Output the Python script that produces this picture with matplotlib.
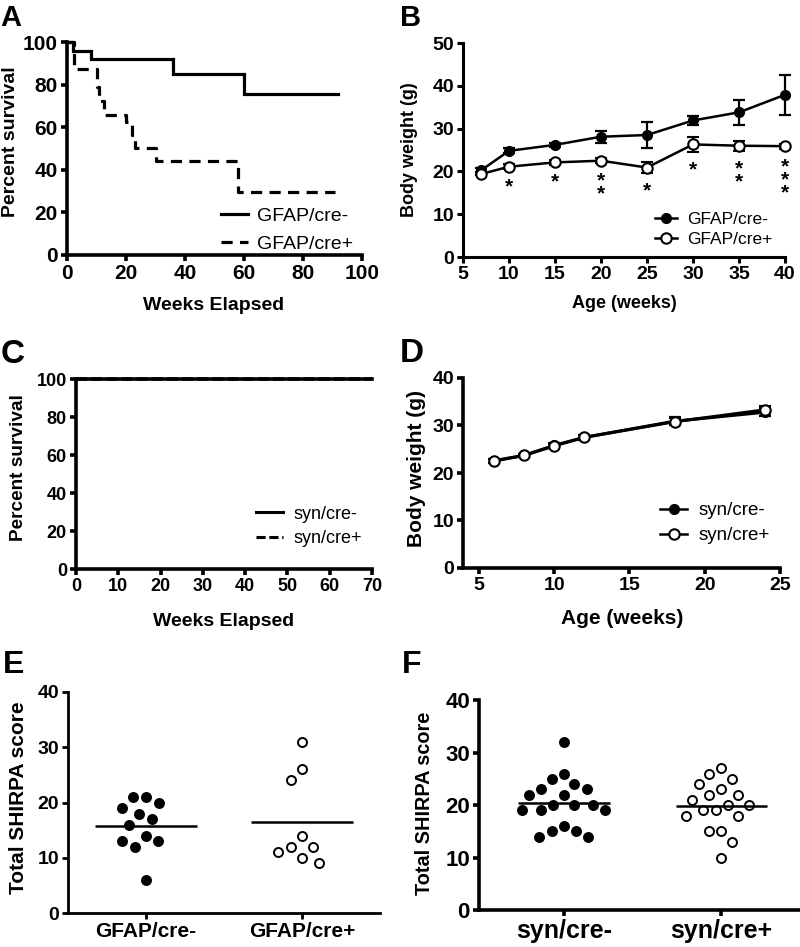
import numpy as np
import matplotlib
matplotlib.use('Agg')
import matplotlib.pyplot as plt
from matplotlib.lines import Line2D

plt.rcParams['font.family'] = ['Liberation Sans', 'DejaVu Sans']

# ---------------- data ----------------
# A: Kaplan-Meier survival, GFAP
a_neg_weeks = [0, 2, 8, 36, 60, 92]
a_neg_surv = [100, 96, 92, 85, 75.5, 75.5]
a_pos_weeks = [0, 2.5, 10, 11, 12.5, 20, 22, 23, 30, 58, 91]
a_pos_surv = [100, 87.5, 79, 72.5, 65.6, 62.5, 56.2, 50, 44, 29.4, 29.4]

# B: body weight, GFAP
b_age = [7, 10, 15, 20, 25, 30, 35, 40]
b_neg_mean = [20.3, 24.8, 26.2, 28.1, 28.5, 31.9, 33.8, 37.9]
b_neg_sem = [0.5, 0.6, 0.5, 1.4, 3.1, 1.0, 2.9, 4.7]
b_pos_mean = [19.4, 21.1, 22.1, 22.5, 20.9, 26.3, 26.0, 25.9]
b_pos_sem = [0.3, 0.6, 0.5, 0.6, 1.3, 1.7, 1.2, 0.6]
b_stars = [0, 1, 1, 2, 1, 1, 2, 3]

# C: survival, syn
c_neg_weeks = [0, 70]
c_neg_surv = [100, 100]
c_pos_weeks = [0, 70]
c_pos_surv = [100, 100]

# D: body weight, syn
d_age = [6, 8, 10, 12, 18, 24]
d_neg_mean = [22.5, 23.7, 25.8, 27.5, 30.9, 32.8]
d_neg_sem = [0.4, 0.4, 0.5, 0.5, 0.8, 0.9]
d_pos_mean = [22.6, 23.7, 25.7, 27.5, 30.8, 33.3]
d_pos_sem = [0.4, 0.4, 0.5, 0.5, 0.8, 0.7]

# E: SHIRPA, GFAP
e_groups = ['GFAP/cre-', 'GFAP/cre+']
e_neg = [21, 21, 20, 19, 18, 17, 16, 14, 13, 13, 12, 6]
e_pos = [31, 26, 24, 14, 12, 12, 11, 10, 9]

# F: SHIRPA, syn
f_groups = ['syn/cre-', 'syn/cre+']
f_neg = [32, 26, 25, 24, 23, 23, 22, 22, 20, 20, 20, 19, 19, 19, 16, 15, 15, 14, 14]
f_pos = [27, 26, 25, 24, 23, 22, 22, 21, 20, 20, 19, 19, 18, 18, 15, 15, 13, 10]

# ---------------- figure ----------------
W, H = 800, 947
fig = plt.figure(figsize=(W / 100, H / 100), dpi=100)


def add_ax(l, r, t, b):
    return fig.add_axes([l / W, 1 - b / H, (r - l) / W, (b - t) / H])


def style(ax, lw, fs):
    for s in ('top', 'right'):
        ax.spines[s].set_visible(False)
    for s in ('left', 'bottom'):
        ax.spines[s].set_linewidth(lw)
        ax.spines[s].set_capstyle('projecting')
    ax.tick_params(direction='out', length=4.5, width=lw, labelsize=fs, pad=2)
    for lab in ax.get_xticklabels() + ax.get_yticklabels():
        lab.set_fontweight('bold')


def px_text(x, y, s, **kw):
    fig.text(x / W, 1 - y / H, s, **kw)


# ---- A ----
axA = add_ax(67, 362, 42, 255)
axA.set_xlim(0, 100)
axA.set_ylim(0, 100)
axA.set_xticks(range(0, 101, 20))
axA.set_yticks(range(0, 101, 20))
axA.step(a_neg_weeks, a_neg_surv, where='post', color='black', lw=2.3,
         clip_on=False, label='GFAP/cre-', solid_joinstyle='miter')
axA.step(a_pos_weeks, a_pos_surv, where='post', color='black', lw=2.3,
         clip_on=False, dashes=(3.5, 2.3), label='GFAP/cre+')
style(axA, 2.6, 15)
axA.legend(loc='lower right', bbox_to_anchor=(0.97, 0.01), frameon=False,
           fontsize=14, borderpad=0, labelspacing=0.55, handlelength=1.4,
           handletextpad=0.45, borderaxespad=0)

# ---- B ----
axB = add_ax(463, 785, 43, 257)
axB.set_xlim(5, 40)
axB.set_ylim(0, 50)
axB.set_xticks(range(5, 41, 5))
axB.set_yticks(range(0, 51, 10))
axB.errorbar(b_age, b_neg_mean, yerr=b_neg_sem, color='black', lw=1.8,
             capsize=4.3, capthick=1.6, elinewidth=1.6, marker='o', ms=7,
             mfc='black', mec='black', zorder=3, clip_on=False)
axB.errorbar(b_age, b_pos_mean, yerr=b_pos_sem, color='black', lw=1.8,
             capsize=4.3, capthick=1.6, elinewidth=1.6, marker='o', ms=7.5,
             mfc='white', mec='black', mew=1.5, zorder=4, clip_on=False)
for x, m, e, n in zip(b_age, b_pos_mean, b_pos_sem, b_stars):
    if n:
        axB.annotate('\n'.join(['*'] * n), (x, m - e), xytext=(0, -6),
                     textcoords='offset points', ha='center', va='top',
                     ma='center', linespacing=0.6, fontsize=15,
                     fontweight='bold')
style(axB, 2.2, 14)
hB = [Line2D([], [], color='black', lw=1.8, marker='o', ms=7, mfc='black'),
      Line2D([], [], color='black', lw=1.8, marker='o', ms=7.5, mfc='white', mew=1.5)]
axB.legend(hB, ['GFAP/cre-', 'GFAP/cre+'], loc='lower right',
           bbox_to_anchor=(0.96, 0.045), frameon=False, fontsize=12.5,
           borderpad=0, labelspacing=0.28, handlelength=1.3,
           handletextpad=0.55, borderaxespad=0)

# ---- C ----
axC = add_ax(76, 372, 379, 569)
axC.set_xlim(0, 70)
axC.set_ylim(0, 100)
axC.set_xticks(range(0, 71, 10))
axC.set_yticks(range(0, 101, 20))
axC.plot(c_pos_weeks, c_pos_surv, color='black', lw=2.6, dashes=(3, 1.2),
         clip_on=False, label='syn/cre+')
axC.plot(c_neg_weeks, c_neg_surv, color='black', lw=2.6, clip_on=False,
         label='syn/cre-')
style(axC, 2.6, 13)
hC = [Line2D([], [], color='black', lw=2.2),
      Line2D([], [], color='black', lw=2.2, dashes=(3, 1.2))]
axC.legend(hC, ['syn/cre-', 'syn/cre+'], loc='lower right',
           bbox_to_anchor=(0.966, 0.115), frameon=False, fontsize=13,
           borderpad=0, labelspacing=0.42, handlelength=1.45,
           handletextpad=0.6, borderaxespad=0)

# ---- D ----
axD = add_ax(463, 780, 378, 568)
axD.set_xlim(3.95, 25)
axD.set_ylim(0, 40)
axD.set_xticks(range(5, 26, 5))
axD.set_yticks(range(0, 41, 10))
axD.errorbar(d_age, d_neg_mean, yerr=d_neg_sem, color='black', lw=2.2,
             capsize=4, capthick=1.6, elinewidth=1.6, marker='o', ms=7,
             mfc='black', mec='black', zorder=3, clip_on=False)
axD.errorbar(d_age, d_pos_mean, yerr=d_pos_sem, color='black', lw=2.2,
             capsize=4, capthick=1.6, elinewidth=1.6, marker='o', ms=7.5,
             mfc='white', mec='black', mew=1.5, zorder=4, clip_on=False)
style(axD, 2.6, 14)
hD = [Line2D([], [], color='black', lw=1.8, marker='o', ms=7, mfc='black'),
      Line2D([], [], color='black', lw=1.8, marker='o', ms=7.5, mfc='white', mew=1.5)]
axD.legend(hD, ['syn/cre-', 'syn/cre+'], loc='lower right',
           bbox_to_anchor=(0.968, 0.125), frameon=False, fontsize=13.5,
           borderpad=0, labelspacing=0.42, handlelength=1.45,
           handletextpad=0.6, borderaxespad=0)


# ---- swarm helper (anisotropic beeswarm in pixel space) ----
def swarm(ax, xc, vals, dist_px, yscale):
    vals = np.asarray(vals, dtype=float)
    pts = ax.transData.transform(np.column_stack([np.full(len(vals), xc), vals]))
    x0 = pts[0, 0]
    ys = pts[:, 1]
    xs = np.empty(len(vals))
    placed = []
    for i in np.argsort(-vals, kind='stable'):
        y = ys[i]
        ivs = []
        for px, py in placed:
            dy = abs(py - y) * yscale
            if dy < dist_px:
                dx = np.sqrt(dist_px ** 2 - dy ** 2)
                ivs.append((px - dx, px + dx))
        cands = [x0] + [e for iv in ivs for e in iv]
        cands.sort(key=lambda c: (round(abs(c - x0), 6), c))
        chosen = x0
        for c in cands:
            if all(not (lo + 1e-6 < c < hi - 1e-6) for lo, hi in ivs):
                chosen = c
                break
        placed.append((chosen, y))
        xs[i] = chosen
    return ax.transData.inverted().transform(np.column_stack([xs, ys]))[:, 0]


# ---- E ----
axE = add_ax(68, 380, 692, 913)
axE.set_xlim(-0.5, 1.5)
axE.set_ylim(0, 40)
axE.set_yticks(range(0, 41, 10))
axE.set_xticks([0, 1])
axE.set_xticklabels(e_groups)
style(axE, 2.0, 14)
axE.tick_params(axis='x', labelsize=15)
for lab in axE.get_xticklabels():
    lab.set_fontweight('bold')
for i, (vals, filled) in enumerate([(e_neg, True), (e_pos, False)]):
    xs = swarm(axE, i, vals, 13.3, 0.7)
    axE.scatter(xs, vals, s=42, facecolors='black' if filled else 'white',
                edgecolors='black', linewidths=1.4, zorder=3, clip_on=False)
    axE.hlines(np.mean(vals), i - 0.33, i + 0.33, color='black', lw=1.8, zorder=4)

# ---- F ----
axF = add_ax(479, 800, 700, 910)
axF.set_xlim(-0.54, 1.5)
axF.set_ylim(0, 40)
axF.set_yticks(range(0, 41, 10))
axF.set_xticks([0, 1])
axF.set_xticklabels(f_groups)
style(axF, 2.6, 16)
axF.tick_params(axis='x', labelsize=18)
for lab in axF.get_xticklabels():
    lab.set_fontweight('bold')
for i, (vals, filled) in enumerate([(f_neg, True), (f_pos, False)]):
    xs = swarm(axF, i, vals, 12.8, 0.7)
    axF.scatter(xs, vals, s=42, facecolors='black' if filled else 'white',
                edgecolors='black', linewidths=1.4, zorder=3, clip_on=False)
    axF.hlines(np.mean(vals), i - 0.29, i + 0.29, color='black', lw=1.8, zorder=4)

# ---- axis titles ----
bold = dict(fontweight='bold', ha='center', va='center')
px_text(11, 142, 'Percent survival', rotation=90, fontsize=14, **bold)
px_text(214, 306, 'Weeks Elapsed', fontsize=14, **bold)
px_text(409, 150, 'Body weight (g)', rotation=90, fontsize=13, **bold)
px_text(624, 303, 'Age (weeks)', fontsize=13, **bold)
px_text(19, 468, 'Percent survival', rotation=90, fontsize=13.7, **bold)
px_text(224, 621, 'Weeks Elapsed', fontsize=14, **bold)
px_text(416, 468, 'Body weight (g)', rotation=90, fontsize=15, **bold)
px_text(622, 619, 'Age (weeks)', fontsize=15, **bold)
px_text(19, 798, 'Total SHIRPA score', rotation=90, fontsize=15, **bold)
px_text(424, 803, 'Total SHIRPA score', rotation=90, fontsize=14.3, **bold)

# ---- panel letters ----
let = dict(fontweight='bold', ha='left', va='top')
px_text(0, 4, 'A', fontsize=21, **let)
px_text(400, 4, 'B', fontsize=21, **let)
px_text(1, 339, 'C', fontsize=24, **let)
px_text(400, 338, 'D', fontsize=24, **let)
px_text(3, 650, 'E', fontsize=23, **let)
px_text(402, 650, 'F', fontsize=23, **let)

fig.savefig('out.png', dpi=100)
